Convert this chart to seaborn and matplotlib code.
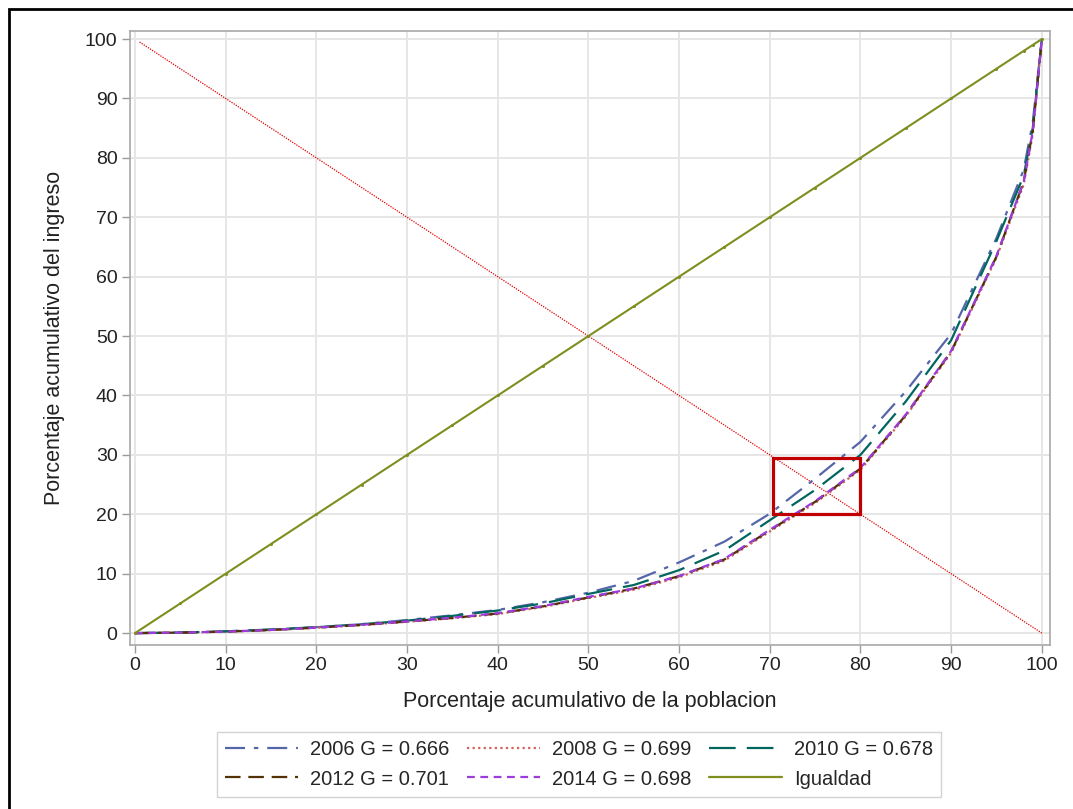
import matplotlib
matplotlib.use("Agg")
import matplotlib.pyplot as plt
import seaborn as sns
import pandas as pd
from matplotlib.patches import Rectangle
from matplotlib.lines import Line2D

# ---------------- data ----------------
pob = [0, 5, 10, 15, 20, 25, 30, 35, 40, 45, 50, 55, 60, 65, 70, 75, 80, 85, 90, 95, 98, 99, 100]
y2006 = [0, 0.1, 0.3, 0.6, 1.0, 1.5, 2.2, 3.0, 3.9, 5.2, 6.8, 8.8, 11.9, 15.4, 20.1, 26.0, 32.2, 40.7, 50.4, 66.5, 78, 86, 100]
y2008 = [0, 0.08, 0.25, 0.5, 0.9, 1.35, 1.9, 2.5, 3.2, 4.4, 5.9, 7.3, 9.4, 12.2, 17.1, 21.9, 27.5, 36.5, 47.2, 63.2, 75.5, 84, 100]
y2010 = [0, 0.1, 0.3, 0.6, 1.0, 1.5, 2.1, 2.9, 3.8, 5.0, 6.6, 8.1, 10.6, 13.9, 19.0, 24.1, 30.0, 39.0, 49.3, 66.0, 77, 85, 100]
y2012 = [0, 0.08, 0.25, 0.52, 0.92, 1.38, 1.95, 2.55, 3.3, 4.5, 6.0, 7.5, 9.6, 12.4, 17.3, 22.1, 27.7, 36.7, 47.4, 63.4, 76, 84.5, 100]
y2014 = [0, 0.09, 0.26, 0.53, 0.93, 1.4, 1.97, 2.6, 3.35, 4.55, 6.1, 7.5, 9.6, 12.5, 17.4, 22.2, 27.8, 36.8, 47.5, 63.5, 76, 84.5, 100]
igualdad = pob
labels = ["2006 G = 0.666", "2008 G = 0.699", "2010 G = 0.678",
          "2012 G = 0.701", "2014 G = 0.698", "Igualdad"]
diag_x = [0.5, 100]
diag_y = [99.5, 0]
box_x = [70.3, 80]
box_y = [20, 29.5]
ticks = [0, 10, 20, 30, 40, 50, 60, 70, 80, 90, 100]

# ---------------- style ----------------
sns.set_theme(style="whitegrid")
plt.rcParams['font.family'] = ['Liberation Sans', 'DejaVu Sans']

fig = plt.figure(figsize=(10.73, 8.09), dpi=100)
ax = fig.add_axes([130/1073, 1-645/809, (1050-130)/1073, (645-31)/809])

colors = ["#5566A8", "#D0625A", "#01665E", "#543005", "#9D3CDB", "#7F8E1F"]
styles = [(0, (9, 4, 2, 4)), (0, (1, 1.5)), (0, (12, 5)), (0, (7, 3.5)), (0, (3.5, 2.5)), "-"]
series = [y2006, y2008, y2010, y2012, y2014, igualdad]

# diagonal red line
sns.lineplot(x=diag_x, y=diag_y, ax=ax, color="#E00000", linewidth=0.9,
             linestyle=(0, (1, 1)), zorder=3)

handles = []
for ys, c, ls, lab in zip(series, colors, styles, labels):
    df = pd.DataFrame({"x": pob, "y": ys})
    if lab == "Igualdad":
        sns.lineplot(data=df, x="x", y="y", ax=ax, color=c, linewidth=1.5,
                     linestyle=ls, marker="o", markersize=2.2, markeredgewidth=0,
                     zorder=4)
    else:
        sns.lineplot(data=df, x="x", y="y", ax=ax, color=c, linewidth=1.6,
                     linestyle=ls, zorder=4)
    handles.append(Line2D([0], [0], color=c, linestyle=ls, linewidth=1.6, label=lab))

# highlight rectangle
ax.add_patch(Rectangle((box_x[0], box_y[0]), box_x[1]-box_x[0], box_y[1]-box_y[0],
                       fill=False, edgecolor="#C00000", linewidth=2.3, zorder=6))

ax.set_xlim(-0.55, 100.9)
ax.set_ylim(-2.0, 101.35)
ax.set_xticks(ticks)
ax.set_yticks(ticks)
ax.tick_params(axis="both", labelsize=14, length=6, width=1,
               direction="out", bottom=True, left=True, pad=3)
for lab in ax.get_xticklabels() + ax.get_yticklabels():
    lab.set_color("#222222")
ax.tick_params(axis="both", color="#9a9a9a")
ax.grid(True, color="#e6e6e6", linewidth=1.4)
for s in ax.spines.values():
    s.set_color("#a8a8a8")
    s.set_linewidth(1.2)

ax.set_xlabel("Porcentaje acumulativo de la poblacion", fontsize=15.5, color="#222222", labelpad=12)
ax.set_ylabel("Porcentaje acumulativo del ingreso", fontsize=15.5, color="#222222", labelpad=14)

order = [0, 3, 1, 4, 2, 5]
leg = fig.legend([handles[i] for i in order], [labels[i] for i in order],
                 ncol=3, loc="center", bbox_to_anchor=(579/1073, 1-764.5/809),
                 fontsize=14.5, frameon=True, fancybox=False, handlelength=3.6,
                 columnspacing=0.9, handletextpad=0.6, borderpad=0.4, labelspacing=0.5)
leg.get_frame().set_edgecolor("#c8c8c8")
leg.get_frame().set_linewidth(1.0)

# outer black border (extends past right/bottom edge)
fig.patches.append(Rectangle((9/1073, -0.1), 1.2, 1 - 9/809 + 0.1, transform=fig.transFigure,
                             fill=False, edgecolor="black", linewidth=2.0, zorder=10))

fig.savefig("out.png", dpi=100)
